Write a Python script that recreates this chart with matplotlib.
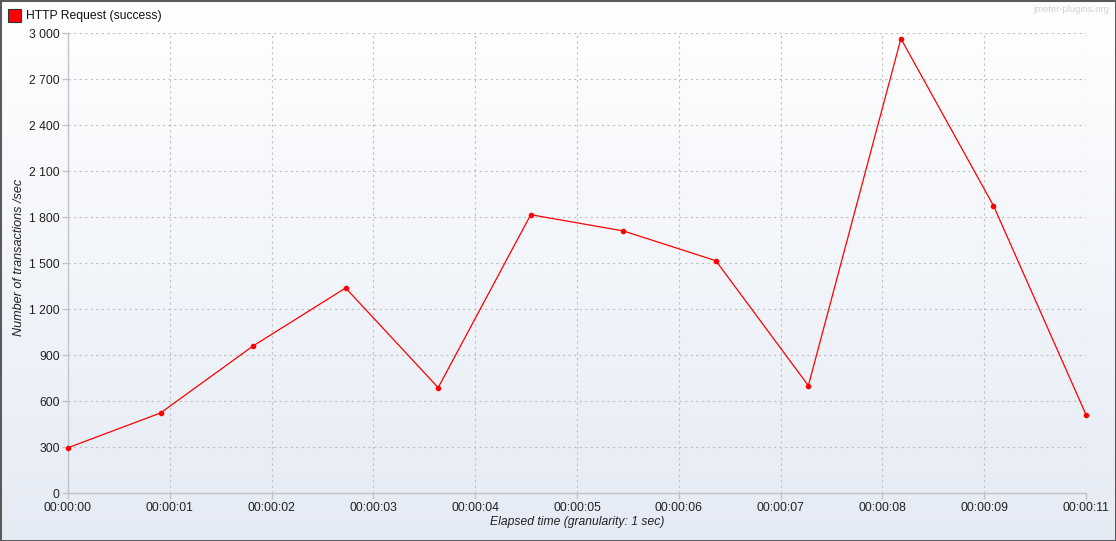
import numpy as np
import matplotlib.pyplot as plt
from matplotlib.patches import Rectangle

plt.rcParams['font.family'] = ['Liberation Sans', 'DejaVu Sans']

# data
seconds = [0, 1, 2, 3, 4, 5, 6, 7, 8, 9, 10, 11]
tps = [297, 524, 961, 1339, 689, 1817, 1711, 1517, 702, 2965, 1876, 513]

x_ticks = [0, 1.1, 2.2, 3.3, 4.4, 5.5, 6.6, 7.7, 8.8, 9.9, 11]
x_labels = ['00:00:00', '00:00:01', '00:00:02', '00:00:03', '00:00:04', '00:00:05',
            '00:00:06', '00:00:07', '00:00:08', '00:00:09', '00:00:11']
y_ticks = [0, 300, 600, 900, 1200, 1500, 1800, 2100, 2400, 2700, 3000]
y_labels = ['0', '300', '600', '900', '1 200', '1 500', '1 800', '2 100', '2 400', '2 700', '3 000']

W, H = 1116, 541
fig = plt.figure(figsize=(W / 100, H / 100), dpi=100)

# background gradient over whole figure
bg = fig.add_axes([0, 0, 1, 1], zorder=-10)
grad = np.linspace(0, 1, 256).reshape(-1, 1)
top = np.array([1.0, 1.0, 1.0])
bot = np.array([229, 235, 245]) / 255
img = top + (bot - top) * grad[..., None]
bg.imshow(img, aspect='auto', extent=[0, 1, 0, 1])
bg.axis('off')

left, right, top_px, bottom_px = 68, 1086, 33.3, 493.3
ax = fig.add_axes([left / W, 1 - bottom_px / H, (right - left) / W, (bottom_px - top_px) / H])
ax.patch.set_alpha(0)

ax.plot(seconds, tps, color='#ff0000', lw=0.9, marker='o', ms=3, mec='#ff0000', mfc='#ff0000',
        clip_on=False, zorder=5)

ax.set_xlim(0, 11)
ax.set_ylim(0, 3000)
ax.set_xticks(x_ticks)
ax.set_xticklabels(x_labels)
ax.set_yticks(y_ticks)
ax.set_yticklabels(y_labels)
ax.tick_params(labelsize=8.7, colors='#c0c4cc', labelcolor='#222222', length=4, width=1, pad=2)
ax.grid(True, color='#bfbfbf', ls=(0, (2, 3)), lw=0.8)

for s in ['top', 'right']:
    ax.spines[s].set_visible(False)
for s in ['left', 'bottom']:
    ax.spines[s].set_color('#c0c4cc')
    ax.spines[s].set_linewidth(1)

ax.set_xlabel('Elapsed time (granularity: 1 sec)', style='italic', fontsize=8.7, color='#222222', labelpad=2)
fig.text(19 / W, 1 - 257 / H, 'Number of transactions /sec', style='italic', fontsize=9.1,
         color='#222222', rotation=90, ha='center', va='center')

# legend
fig.patches.append(Rectangle((8 / W, 1 - 22 / H), 13 / W, 13 / H, transform=fig.transFigure,
                             facecolor='#ff0000', edgecolor='#333333', lw=0.8))
fig.text(26 / W, 1 - 16 / H, 'HTTP Request (success)', fontsize=8.7, color='#111111', va='center')
fig.text(1109 / W, 1 - 9 / H, 'jmeter-plugins.org', fontsize=6.8, color='#cdd2d9', ha='right', va='center')

# outer frame
fig.patches.append(Rectangle((0, 0), 1, 1, transform=fig.transFigure, fill=False,
                             edgecolor='#5a5a5a', lw=2.2))

fig.savefig('out.png', dpi=100)
